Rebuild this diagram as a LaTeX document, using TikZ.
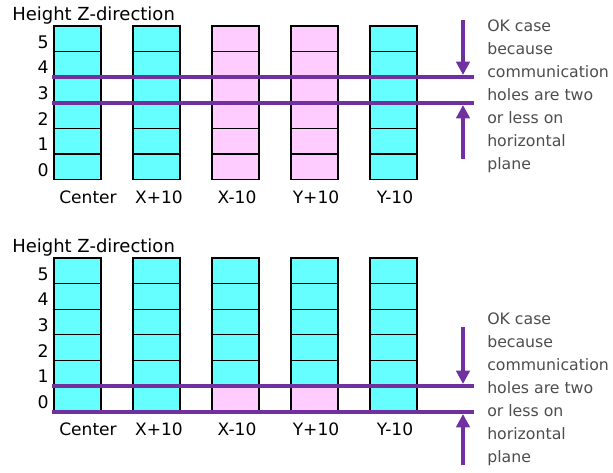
\documentclass[tikz,border=0pt]{standalone}
\usepackage{fontspec}
\setmainfont{DejaVu Sans}
\usepackage{tikz}
\usetikzlibrary{arrows.meta}
\definecolor{holecyan}{HTML}{66FFFF}
\definecolor{holepink}{HTML}{FFCCFF}
\definecolor{planepurple}{HTML}{7030A0}
\definecolor{notegray}{HTML}{4D4D4D}

\begin{document}
\begin{tikzpicture}[x=0.75pt,y=-0.75pt,>={Triangle[length=10pt,width=10pt]},
                    cell/.style={draw=black,line width=0.8pt},
                    plane/.style={draw=planepurple,line width=3pt},
                    hint/.style={->,draw=planepurple,line width=3.2pt},
                    heading/.style={anchor=west,inner sep=0pt,font=\fontsize{13.5}{13.5}\selectfont},
                    levelnum/.style={anchor=east,inner sep=0pt,font=\fontsize{13}{13}\selectfont},
                    colname/.style={inner sep=0pt,font=\fontsize{12.8}{12.8}\selectfont},
                    note/.style={anchor=west,align=left,inner sep=0pt,text=notegray,
                                 font=\fontsize{11.8}{17.25}\selectfont}]

\useasboundingbox (0,0) rectangle (613,473);

% upper case: X-10 and Y+10 open
\node[heading] (th) at (12,16) {Height Z-direction};
\foreach \x/\col in {54/holecyan,133/holecyan,212/holepink,291/holepink,370/holecyan}
  \foreach \r in {0,...,5}
    \filldraw[cell,fill=\col] (\x,{26+\r*25.6}) rectangle ++(47,25.6);
\foreach \n in {0,...,5}
  \node[levelnum] (tl\n) at (49,{26+(5-\n)*25.6+16}) {\n};
\node[colname] (tc) at (88,197)  {Center};
\node[colname] (txp) at (159,197) {X+10};
\node[colname] (txm) at (237,197) {X-10};
\node[colname] (typ) at (316,197) {Y+10};
\node[colname] (tym) at (395,197) {Y-10};
\draw[plane] (52,77.2) -- (474,77.2);
\draw[plane] (52,102.8) -- (474,102.8);
\node[note] (tn) at (487,96) {OK case\\because\\communication\\holes are two\\or less on\\horizontal\\plane};
\coordinate (td1) at (463,20);
\coordinate (td2) at (463,75);
\coordinate (tu1) at (463,159);
\coordinate (tu2) at (463,105);

% lower case: X-10 and Y+10 open at level 0
\node[heading] (bh) at (12,248) {Height Z-direction};
\foreach \x in {54,133,212,291,370}
  \foreach \r in {0,...,5}
    \filldraw[cell,fill=holecyan] (\x,{258+\r*25.6}) rectangle ++(47,25.6);
\filldraw[cell,fill=holepink] (212,386) rectangle ++(47,25.6);
\filldraw[cell,fill=holepink] (291,386) rectangle ++(47,25.6);
\foreach \n in {0,...,5}
  \node[levelnum] (bl\n) at (49,{258+(5-\n)*25.6+16}) {\n};
\node[colname] (bc) at (88,429)  {Center};
\node[colname] (bxp) at (159,429) {X+10};
\node[colname] (bxm) at (237,429) {X-10};
\node[colname] (byp) at (316,429) {Y+10};
\node[colname] (bym) at (395,429) {Y-10};
\draw[plane] (52,386) -- (474,386);
\draw[plane] (52,411.6) -- (474,411.6);
\node[note] (bn) at (487,389) {OK case\\because\\communication\\holes are two\\or less on\\horizontal\\plane};
\coordinate (bd1) at (463,327);
\coordinate (bd2) at (463,384);
\coordinate (bu1) at (463,465);
\coordinate (bu2) at (463,414);

\path
    (td1) edge [hint] (td2)
    (tu1) edge [hint] (tu2)
    (bd1) edge [hint] (bd2)
    (bu1) edge [hint] (bu2)
;
\end{tikzpicture}
\end{document}
